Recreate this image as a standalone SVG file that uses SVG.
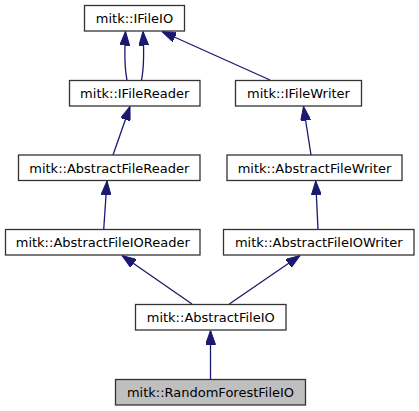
<svg xmlns="http://www.w3.org/2000/svg" width="419" height="411" viewBox="0 0 419 411">
<style>
.node rect{fill:#ffffff;stroke:#333333;stroke-width:1.3}
.node.cur rect{fill:#bfbfbf}
.node text{font-family:"DejaVu Sans",sans-serif;font-size:13px;fill:#000000;text-anchor:middle}
.edges path{fill:none;stroke:#191970;stroke-width:1.3;marker-end:url(#arr)}
</style>
<defs>
<marker id="arr" viewBox="0 0 14 10" refX="14" refY="5" markerWidth="14" markerHeight="10" markerUnits="userSpaceOnUse" orient="auto">
<path d="M0,0 L14,5 L0,10 Z" fill="#191970" stroke="#191970" stroke-width="1"/>
</marker>
</defs>
<rect width="419" height="411" fill="#ffffff"/>
<g class="edges">
<path d="M127,80 C124.5,68 124.5,50 125.5,31.5"/>
<path d="M141.5,80 C144,68 144,50 143,31.5"/>
<path d="M270,80 L162,31.5"/>
<path d="M113,155 L130,106.5"/>
<path d="M311,155 L303.5,106.5"/>
<path d="M103.7,229.5 L107,181"/>
<path d="M318,229.5 L315.7,181"/>
<path d="M192,304 L122,255.5"/>
<path d="M229.3,304 L300,255.5"/>
<path d="M210.5,379 L210.5,330.5"/>
</g>
<g id="IFileIO" class="node"><rect x="84.5" y="5.5" width="100" height="25.5"/><text x="134.5" y="23">mitk::IFileIO</text></g>
<g id="IFileReader" class="node"><rect x="69.5" y="80.5" width="130.5" height="25.5"/><text x="134.75" y="98">mitk::IFileReader</text></g>
<g id="IFileWriter" class="node"><rect x="235.5" y="80.5" width="126" height="25.5"/><text x="298.5" y="98">mitk::IFileWriter</text></g>
<g id="AbstractFileReader" class="node"><rect x="18.5" y="155" width="181.5" height="25.5"/><text x="109.25" y="172.5">mitk::AbstractFileReader</text></g>
<g id="AbstractFileWriter" class="node"><rect x="227" y="155" width="175" height="25.5"/><text x="314.5" y="172.5">mitk::AbstractFileWriter</text></g>
<g id="AbstractFileIOReader" class="node"><rect x="5.5" y="229.5" width="194.5" height="25.5"/><text x="102.75" y="247">mitk::AbstractFileIOReader</text></g>
<g id="AbstractFileIOWriter" class="node"><rect x="223.5" y="229.5" width="190.5" height="25.5"/><text x="318.75" y="247">mitk::AbstractFileIOWriter</text></g>
<g id="AbstractFileIO" class="node"><rect x="135.5" y="304.5" width="150.5" height="25.5"/><text x="210.75" y="322">mitk::AbstractFileIO</text></g>
<g id="RandomForestFileIO" class="node cur"><rect x="115.5" y="379.5" width="190" height="25.5"/><text x="210.5" y="397">mitk::RandomForestFileIO</text></g>
</svg>
